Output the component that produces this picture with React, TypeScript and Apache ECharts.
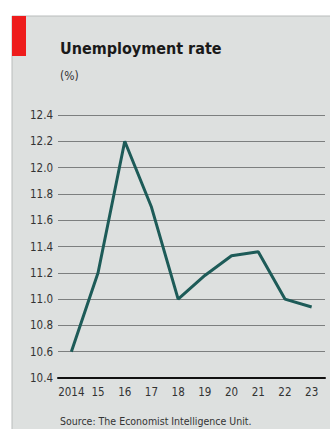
import React, { useEffect, useRef } from "react";
import * as echarts from "echarts";

const years = ["2014", "15", "16", "17", "18", "19", "20", "21", "22", "23"];
const unemployment = [10.6, 11.2, 12.2, 11.7, 11.0, 11.18, 11.33, 11.36, 11.0, 10.94];
const yTicks = { min: 10.4, max: 12.4, interval: 0.2 };
const title = "Unemployment rate";
const unit = "(%)";
const source = "Source: The Economist Intelligence Unit.";

const FONT = "'Liberation Sans Narrow', 'DejaVu Sans Condensed', 'Roboto', sans-serif";

export default function App() {
  const ref = useRef<HTMLDivElement>(null);
  useEffect(() => {
    if (!ref.current) return;
    const chart = echarts.init(ref.current, null, { renderer: "svg" });
    chart.setOption({
      animation: false,
      backgroundColor: "#ffffff",
      graphic: [
        {
          type: "rect",
          shape: { x: 12, y: 16, width: 330, height: 430 },
          style: { fill: "#dde0df", stroke: "#b9bcbc", lineWidth: 1 },
          z: -10,
        },
        {
          type: "rect",
          shape: { x: 12, y: 16, width: 14, height: 40 },
          style: { fill: "#ee1c1c" },
        },
        {
          type: "text",
          x: 60,
          y: 40,
          style: {
            text: title,
            font: "bold 16px " + FONT,
            fill: "#1a1a1a",
          },
        },
        {
          type: "text",
          x: 60,
          y: 70,
          style: { text: unit, font: "12px " + FONT, fill: "#333" },
        },
        {
          type: "text",
          x: 60,
          y: 415,
          style: { text: source, font: "10.5px " + FONT, fill: "#333" },
        },
      ],
      grid: { left: 58, right: 5, top: 115, bottom: 51 },
      xAxis: {
        type: "category",
        data: years,
        boundaryGap: true,
        axisLine: { show: true, lineStyle: { color: "#111", width: 2 } },
        axisTick: { show: false },
        axisLabel: { color: "#333", fontSize: 11.5, fontFamily: FONT, margin: 8, interval: 0 },
      },
      yAxis: {
        type: "value",
        min: yTicks.min,
        max: yTicks.max,
        interval: yTicks.interval,
        axisLine: { show: false },
        axisTick: { show: false },
        splitLine: { lineStyle: { color: "#7c7f7f", width: 1 } },
        axisLabel: {
          color: "#333",
          fontSize: 11.5,
          fontFamily: FONT,
          margin: 5,
          formatter: (v: number) => v.toFixed(1),
        },
      },
      series: [
        {
          type: "line",
          data: unemployment,
          symbol: "none",
          lineStyle: { color: "#1d5b58", width: 3 },
        },
      ],
    });
    return () => chart.dispose();
  }, []);
  return (
    <div
      ref={ref}
      style={{ position: "fixed", left: 0, top: 0, width: 330, height: 429 }}
    />
  );
}
